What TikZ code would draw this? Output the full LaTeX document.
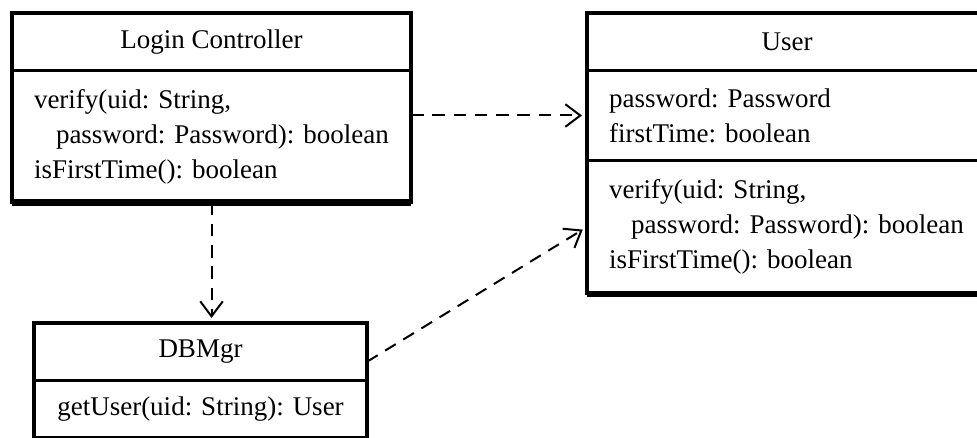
\documentclass[tikz,border=0pt]{standalone}
\usepackage{fontspec}
\setmainfont{Liberation Serif}
\usetikzlibrary{positioning,arrows.meta}
\frenchspacing

\begin{document}
\begin{tikzpicture}[
x=0.4pt,y=-0.4pt,
node distance=0pt,
every node/.style={font=\fontsize{10.8}{14}\selectfont},
head/.style={rectangle,draw,line width=1.4pt,outer sep=0pt,inner sep=0pt,
minimum height=23pt,align=center},
body/.style={rectangle,draw,line width=1.4pt,outer sep=0pt,inner xsep=8.8pt,
inner ysep=0pt,align=left},
dep/.style={-{Straight Barb[length=6pt,width=9pt]},dash pattern=on 5pt off 3.5pt,
line width=0.8pt,shorten >=2pt}
]
\useasboundingbox (0,0) rectangle (977,438);
\clip (0,0) rectangle (977,438);
% classes
\node[head,minimum width=159.6pt,anchor=north west] (lc) at (12,13) {Login Controller};
\node[body,text width=142pt,minimum height=52.8pt,below=of lc] (lcops)
{verify(uid: String,\\\hspace*{8.8pt}password: Password): boolean\\isFirstTime(): boolean};
\node[head,minimum width=160pt,right=70.4pt of lc] (usr) {User};
\node[body,text width=142.4pt,minimum height=36pt,below=of usr] (usrattr)
{password: Password\\firstTime: boolean};
\node[body,text width=142.4pt,minimum height=53.2pt,below=of usrattr] (usrops)
{verify(uid: String,\\\hspace*{8.8pt}password: Password): boolean\\isFirstTime(): boolean};
\node[head,minimum width=133.2pt,anchor=north west] (db) at (34,323) {DBMgr};
\node[body,inner xsep=0pt,text width=133.2pt,minimum height=22.8pt,align=center,below=of db] (dbops)
{getUser(uid: String): User};
% heavier bottom edges
\draw[line width=2.4pt] (lcops.south west) -- (lcops.south east);
\draw[line width=2.4pt] (usrops.south west) -- (usrops.south east);
% dependencies
\draw[dep] (lcops.east |- usrattr.west) -- (usrattr.west);
\draw[dep] (lcops.south) -- (lcops.south |- db.north);
\draw[dep] ([yshift=-4pt]db.east) -- (usrops.west);
\end{tikzpicture}
\end{document}
